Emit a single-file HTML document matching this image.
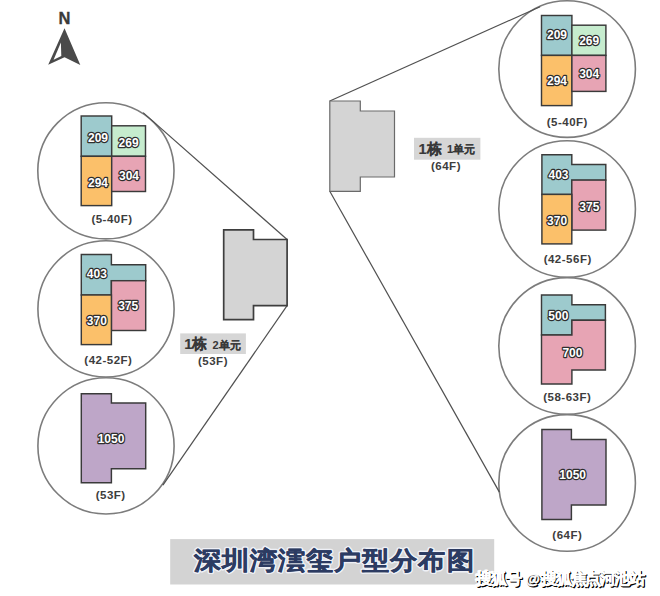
<!DOCTYPE html>
<html><head><meta charset="utf-8">
<style>
html,body{margin:0;padding:0;background:#fff;}
body{width:660px;height:596px;position:relative;overflow:hidden;font-family:"Liberation Sans",sans-serif;}
svg{position:absolute;left:0;top:0;}
.num{font-family:"Liberation Sans",sans-serif;font-weight:bold;font-size:12px;fill:#fff;stroke:#2e2e2e;stroke-width:2.4px;paint-order:stroke fill;stroke-linejoin:round;}
.fl{font-family:"Liberation Sans",sans-serif;font-weight:bold;font-size:11.5px;fill:#3d3d3d;letter-spacing:0.5px;}
.box{stroke:#3a3a3a;stroke-width:1.45;stroke-linejoin:miter;}
</style></head>
<body>
<svg width="660" height="596" viewBox="0 0 660 596">
  <!-- north arrow -->
  <text x="64.5" y="24" text-anchor="middle" style="font-family:'Liberation Sans',sans-serif;font-weight:bold;font-size:16.5px;fill:#3a3a3a;stroke:#3a3a3a;stroke-width:0.3px;">N</text>
  <path d="M64.5 28.2 L80.3 65 L64.5 57.2 L48.2 64.8 Z" fill="#4a4a4a"/>
  <path d="M60.9 42.5 L53.6 59.7 L61.3 55.9 Z" fill="#fff"/>


  <!-- circles -->
  <g stroke="#7c7c7c" stroke-width="1.6" fill="#fff">
    <circle cx="105.9" cy="170.8" r="68.1"/>
    <circle cx="106" cy="308.9" r="68.1"/>
    <circle cx="106" cy="445.9" r="68.1"/>
    <circle cx="567.1" cy="69.1" r="68.3"/>
    <circle cx="567.1" cy="209" r="68.3"/>
    <circle cx="567.1" cy="345.9" r="68.3"/>
    <circle cx="567.1" cy="482.9" r="68.3"/>
  </g>
  <!-- lines -->
  <g stroke="#505050" stroke-width="1.2" fill="none">
    <line x1="143.1" y1="112.6" x2="287.1" y2="239.5"/>
    <line x1="287.1" y1="305.7" x2="162.9" y2="485.1"/>
    <line x1="329.8" y1="101" x2="540.1" y2="6.7"/>
    <line x1="329.8" y1="191.3" x2="499.4" y2="492.1"/>
  </g>

  <!-- left building -->
  <path d="M223.7 229.8 H253.5 V239.5 H287.1 V305.7 H253.5 V319.6 H223.7 Z" fill="#d4d4d4" stroke="#3e3e3e" stroke-width="1.7"/>
  <!-- right building -->
  <path d="M329.8 101 H360.3 V111 H394.5 V177 H360.3 V191.3 H329.8 Z" fill="#d4d4d4" stroke="#6a6a6a" stroke-width="1.2"/>

  <!-- Left C1 -->
  <g class="box">
    <rect x="81.2" y="116" width="30.5" height="40.3" fill="#9dcacd"/>
    <rect x="111.7" y="125.8" width="33.8" height="30.5" fill="#c6ecce"/>
    <rect x="81.2" y="156.3" width="30.5" height="49.3" fill="#fbc06a"/>
    <rect x="111.7" y="156.3" width="33.8" height="35.2" fill="#e7a4b4"/>
  </g>
  <text class="num" x="98" y="141.5" text-anchor="middle">209</text>
  <text class="num" x="128.6" y="146.5" text-anchor="middle">269</text>
  <text class="num" x="98" y="186.5" text-anchor="middle">294</text>
  <text class="num" x="129" y="179.5" text-anchor="middle">304</text>
  <text class="fl" x="112" y="223" text-anchor="middle">(5-40F)</text>

  <!-- Left C2 -->
  <g class="box">
    <path d="M81.3 254.5 H111.4 V264.8 H145.7 V280.7 H111.4 V295 H81.3 Z" fill="#9dcacd"/>
    <rect x="111.4" y="280.7" width="34.3" height="49.8" fill="#e7a4b4"/>
    <rect x="81.3" y="295" width="30.1" height="49.6" fill="#fbc06a"/>
  </g>
  <text class="num" x="96.8" y="278.3" text-anchor="middle">403</text>
  <text class="num" x="128.2" y="309.7" text-anchor="middle">375</text>
  <text class="num" x="96.8" y="324.7" text-anchor="middle">370</text>
  <text class="fl" x="108.4" y="364" text-anchor="middle">(42-52F)</text>

  <!-- Left C3 -->
  <path class="box" d="M81.3 393.7 H111.4 V403 H145.7 V468.7 H111.4 V482.8 H81.3 Z" fill="#bea6c8"/>
  <text class="num" x="111" y="442.8" text-anchor="middle">1050</text>
  <text class="fl" x="110.7" y="499" text-anchor="middle">(53F)</text>

  <!-- Right R1 -->
  <g class="box">
    <rect x="541.5" y="15.5" width="30.4" height="39.9" fill="#9dcacd"/>
    <rect x="571.9" y="25.2" width="34" height="30.2" fill="#c6ecce"/>
    <rect x="541.5" y="55.4" width="30.4" height="50.2" fill="#fbc06a"/>
    <rect x="571.9" y="55.4" width="34" height="36" fill="#e7a4b4"/>
  </g>
  <text class="num" x="557" y="39.3" text-anchor="middle">209</text>
  <text class="num" x="589.2" y="44.9" text-anchor="middle">269</text>
  <text class="num" x="557" y="84.9" text-anchor="middle">294</text>
  <text class="num" x="589.2" y="77.9" text-anchor="middle">304</text>
  <text class="fl" x="567.3" y="125.5" text-anchor="middle">(5-40F)</text>

  <!-- Right R2 -->
  <g class="box">
    <path d="M541.9 154.7 H571.8 V164.4 H605.8 V180.1 H571.8 V194.4 H541.9 Z" fill="#9dcacd"/>
    <rect x="571.8" y="180.1" width="34" height="50" fill="#e7a4b4"/>
    <rect x="541.9" y="194.4" width="29.9" height="49.5" fill="#fbc06a"/>
  </g>
  <text class="num" x="558.5" y="178.8" text-anchor="middle">403</text>
  <text class="num" x="589.3" y="210.5" text-anchor="middle">375</text>
  <text class="num" x="557.1" y="225.2" text-anchor="middle">370</text>
  <text class="fl" x="567.7" y="262.8" text-anchor="middle">(42-56F)</text>

  <!-- Right R3 -->
  <g class="box">
    <path d="M541.5 295 H571.9 V304.8 H605.4 V320.2 H571.9 V335 H541.5 Z" fill="#9dcacd"/>
    <path d="M541.5 335 H571.9 V320.2 H605.4 V370 H571.9 V383.9 H541.5 Z" fill="#e7a4b4"/>
  </g>
  <text class="num" x="558.3" y="319.5" text-anchor="middle">500</text>
  <text class="num" x="572.4" y="356.9" text-anchor="middle">700</text>
  <text class="fl" x="567.3" y="400.5" text-anchor="middle">(58-63F)</text>

  <!-- Right R4 -->
  <path class="box" d="M541.9 429.5 H571.4 V439.5 H606 V505 H571.4 V519.4 H541.9 Z" fill="#bea6c8"/>
  <text class="num" x="572.7" y="478.7" text-anchor="middle">1050</text>
  <text class="fl" x="567.3" y="538.8" text-anchor="middle">(64F)</text>

  <!-- building labels -->
  <rect x="180.2" y="333.4" width="65.7" height="20.6" fill="#d6d6d6"/>
  <text x="184.2" y="349" style="font-family:'Liberation Sans',sans-serif;font-weight:bold;font-size:14.6px;fill:#383838;stroke:#383838;stroke-width:0.15px;">1栋</text>
  <text x="212.6" y="348.6" style="font-family:'Liberation Sans',sans-serif;font-weight:bold;font-size:11px;fill:#383838;stroke:#383838;stroke-width:0.1px;">2单元</text>
  <text x="213" y="365" text-anchor="middle" class="fl">(53F)</text>

  <rect x="414" y="137.8" width="66.4" height="21.9" fill="#d6d6d6"/>
  <text x="418.5" y="154.4" style="font-family:'Liberation Sans',sans-serif;font-weight:bold;font-size:14.6px;fill:#383838;stroke:#383838;stroke-width:0.15px;">1栋</text>
  <text x="447" y="153.4" style="font-family:'Liberation Sans',sans-serif;font-weight:bold;font-size:11px;fill:#383838;stroke:#383838;stroke-width:0.1px;">1单元</text>
  <text x="446" y="169.8" text-anchor="middle" class="fl">(64F)</text>

  <!-- title -->
  <rect x="170.2" y="539.1" width="324" height="45.4" fill="#d3d3d3"/>
  <g transform="translate(0.5,559.4) scale(1,0.92) translate(0,-560.4)">
  <text x="193.2" y="570.8" style="font-family:'Liberation Sans',sans-serif;font-weight:bold;font-size:27.7px;fill:#fff;stroke:#eef0f6;stroke-width:3.6px;stroke-linejoin:round;">深圳湾澐玺户型分布图</text>
  <text x="193.2" y="570.8" style="font-family:'Liberation Sans',sans-serif;font-weight:bold;font-size:27.7px;fill:#2c3b62;stroke:#2c3b62;stroke-width:0.45px;stroke-linejoin:round;">深圳湾澐玺户型分布图</text>
  </g>

  <!-- watermark -->
  <g style="font-family:'Liberation Sans',sans-serif;font-weight:bold;fill:#fff;stroke:#fff;stroke-width:2px;stroke-linejoin:round;"><text x="476" y="584" style="font-size:16px;letter-spacing:-0.8px;">搜狐号</text><text x="525.8" y="583.6" style="font-size:14.5px;">@</text><text x="541.4" y="584" style="font-size:16px;letter-spacing:-1.4px;">搜狐焦点河池站</text></g>
  <g transform="translate(1,1)" style="font-family:'Liberation Sans',sans-serif;font-weight:bold;fill:#000;stroke:#000;stroke-width:0.9px;stroke-linejoin:round;"><text x="476" y="584" style="font-size:16px;letter-spacing:-0.8px;">搜狐号</text><text x="525.8" y="583.6" style="font-size:14.5px;">@</text><text x="541.4" y="584" style="font-size:16px;letter-spacing:-1.4px;">搜狐焦点河池站</text></g>
  <g style="font-family:'Liberation Sans',sans-serif;font-weight:bold;fill:#fff;stroke:#fff;stroke-width:0.5px;"><text x="476" y="584" style="font-size:16px;letter-spacing:-0.8px;">搜狐号</text><text x="525.8" y="583.6" style="font-size:14.5px;">@</text><text x="541.4" y="584" style="font-size:16px;letter-spacing:-1.4px;">搜狐焦点河池站</text></g>
</svg>
</body></html>
